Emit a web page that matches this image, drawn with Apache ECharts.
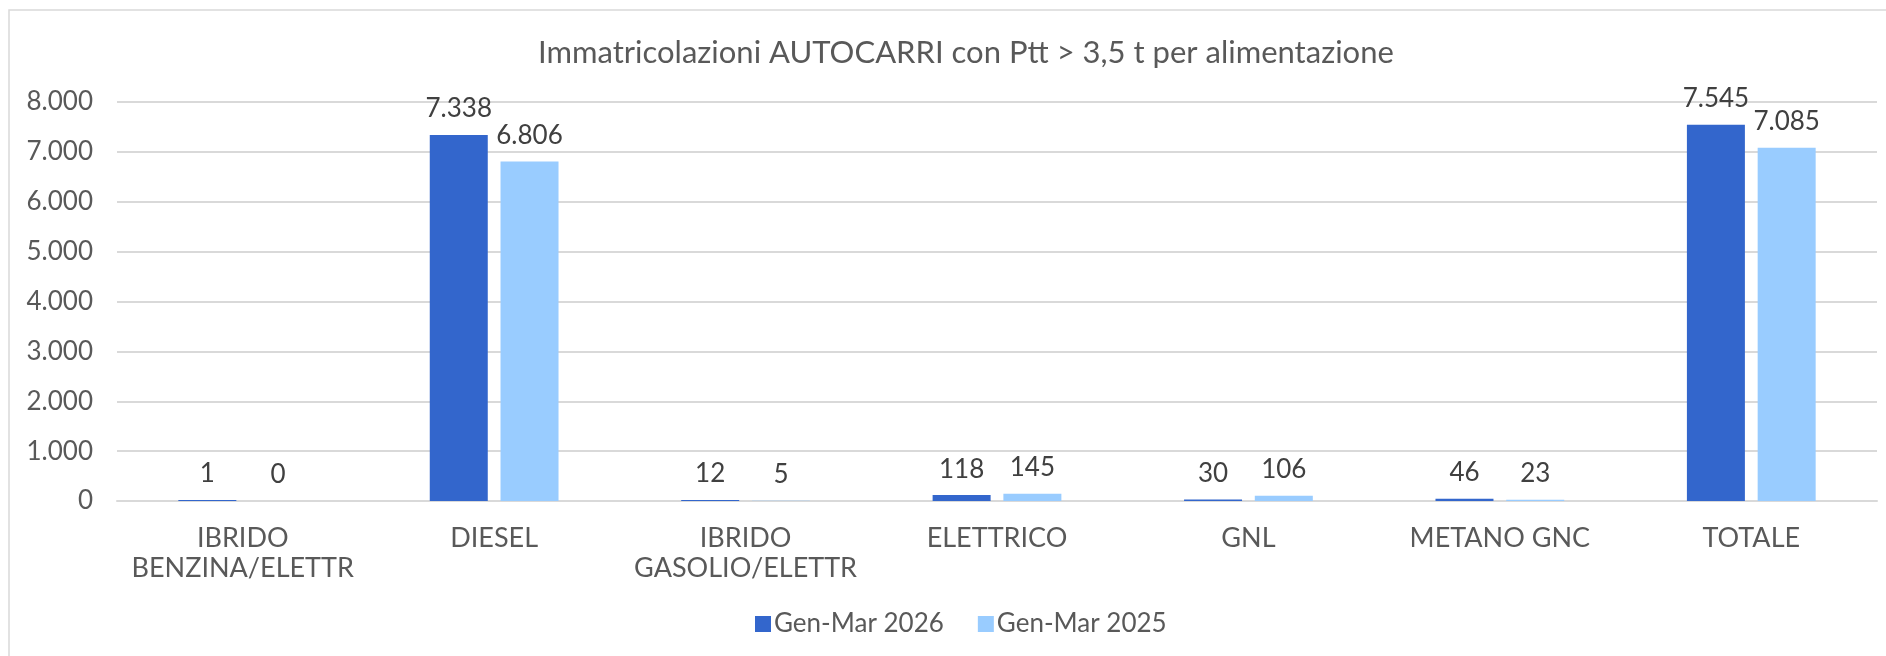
<!DOCTYPE html>
<html>
<head>
<meta charset="utf-8">
<script src="https://cdn.jsdelivr.net/npm/echarts@6/dist/echarts.min.js"></script>
<style>
    html, body { margin: 0; padding: 0; background: #fff; }
    #chart { width: 1886px; height: 656px; }
</style>
</head>
<body>
<div id="chart"></div>
<script>
// dati
const categories = ['IBRIDO BENZINA/ELETTR', 'DIESEL', 'IBRIDO GASOLIO/ELETTR', 'ELETTRICO', 'GNL', 'METANO GNC', 'TOTALE']
const gm2026 = [1, 7338, 12, 118, 30, 46, 7545]
const gm2025 = [0, 6806, 5, 145, 106, 23, 7085]
const seriesNames = ['Gen-Mar 2026', 'Gen-Mar 2025']
const yTicks = [0, 8000, 1000] // min, max, passo

const textColor = '#595959'
const fontFamily = 'Lato, "Open Sans", sans-serif'

// separatore migliaia all'italiana
function fmt(v) {
    return String(v).replace(/\B(?=(\d{3})+(?!\d))/g, '.')
}

// a capo dopo la prima parola per le etichette lunghe (come Excel)
function wrapLabel(v) {
    return v.length > 15 ? v.replace(' ', '\n') : v
}

const myChart = echarts.init(document.getElementById('chart'))
const option = {
    animation: false,
    textStyle: { fontFamily: fontFamily },
    graphic: [{
        type: 'rect',
        shape: { x: 9, y: 10, width: 1900, height: 700 },
        style: { fill: 'none', stroke: '#d9d9d9', lineWidth: 1.5 },
        silent: true
    }],
    title: {
        text: 'Immatricolazioni AUTOCARRI con Ptt > 3,5 t per alimentazione',
        left: 533,
        top: 32,
        textStyle: { color: textColor, fontSize: 31, fontWeight: 'normal', fontFamily: fontFamily }
    },
    legend: {
        data: seriesNames,
        bottom: 14,
        left: 750,
        itemWidth: 16,
        itemHeight: 16,
        itemGap: 34,
        icon: 'rect',
        textStyle: { color: textColor, fontSize: 26, fontFamily: fontFamily, padding: [0, 0, 0, -2] }
    },
    grid: {
        left: 117,
        right: 9,
        top: 102,
        bottom: 155,
        containLabel: false
    },
    xAxis: {
        type: 'category',
        data: categories,
        axisLine: { show: true, lineStyle: { color: '#d9d9d9', width: 2 } },
        axisTick: { show: false },
        axisLabel: {
            color: textColor,
            fontSize: 27,
            fontFamily: fontFamily,
            margin: 22,
            lineHeight: 30,
            interval: 0,
            formatter: wrapLabel
        }
    },
    yAxis: {
        type: 'value',
        min: yTicks[0],
        max: yTicks[1],
        interval: yTicks[2],
        axisLine: { show: false },
        axisTick: { show: false },
        splitLine: { lineStyle: { color: '#d9d9d9', width: 2 } },
        axisLabel: {
            color: textColor,
            fontSize: 26,
            fontFamily: fontFamily,
            margin: 24,
            formatter: fmt
        }
    },
    series: [
        {
            name: seriesNames[0],
            type: 'bar',
            data: gm2026,
            barWidth: 58,
            barGap: '22%',
            barMinHeight: 1,
            itemStyle: { color: '#3366cc' },
            label: {
                show: true,
                position: 'top',
                distance: 13,
                color: '#404040',
                fontSize: 26,
                fontFamily: fontFamily,
                formatter: p => fmt(p.value)
            }
        },
        {
            name: seriesNames[1],
            type: 'bar',
            data: gm2025,
            barWidth: 58,
            barGap: '22%',
            itemStyle: { color: '#99ccff' },
            label: {
                show: true,
                position: 'top',
                distance: 13,
                color: '#404040',
                fontSize: 26,
                fontFamily: fontFamily,
                formatter: p => fmt(p.value)
            }
        }
    ]
}
myChart.setOption(option)
</script>
</body>
</html>
